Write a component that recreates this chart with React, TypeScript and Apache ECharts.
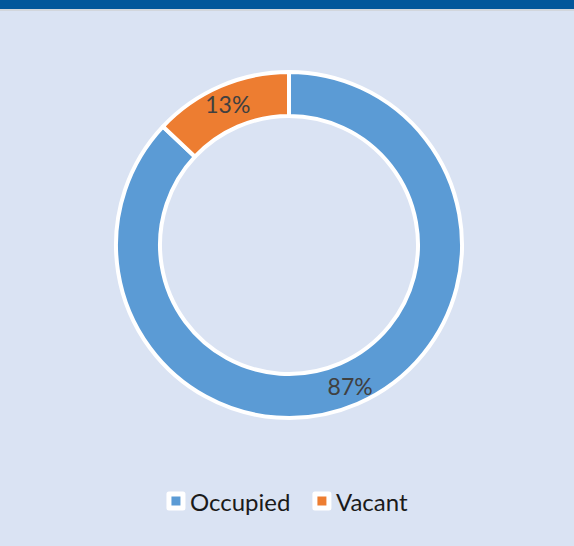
import React, { useEffect, useRef } from "react";
import * as echarts from "echarts";

const categories = ["Occupied", "Vacant"];
const values = [87, 13];
const colors = ["#5b9bd5", "#ed7d31"];

export default function App() {
  const ref = useRef<HTMLDivElement>(null);
  useEffect(() => {
    document.body.style.margin = "0";
    const chart = echarts.init(ref.current!, null, { renderer: "svg" });
    chart.setOption({
      animation: false,
      backgroundColor: "#dae3f3",
      graphic: [
        { type: "rect", left: 0, top: 0, shape: { width: 574, height: 9 }, style: { fill: "#02579b" } },
        { type: "rect", left: 0, top: 9, shape: { width: 574, height: 2 }, style: { fill: "#d2d6dc" } },
      ],
      legend: {
        bottom: 28,
        left: "center",
        icon: "rect",
        itemWidth: 14,
        itemHeight: 14,
        itemGap: 22,
        itemStyle: { borderColor: "#ffffff", borderWidth: 5 },
        textStyle: { fontFamily: "Lato", fontSize: 24, color: "#1a1a1a", padding: [0, 0, 0, 2] },
        data: categories,
      },
      series: [
        {
          type: "pie",
          center: [289, 245],
          radius: [129, 173],
          startAngle: 90,
          clockwise: true,
          data: categories.map((n, i) => ({ name: n, value: values[i], itemStyle: { color: colors[i] } })),
          itemStyle: { borderColor: "#ffffff", borderWidth: 4 },
          label: {
            show: true,
            position: "inside",
            formatter: "{c}%",
            fontFamily: "Lato",
            fontSize: 23,
            color: "#404040",
          },
          labelLine: { show: false },
          emphasis: { disabled: true },
        },
      ],
    });
    return () => chart.dispose();
  }, []);
  return <div ref={ref} style={{ width: 574, height: 546 }} />;
}
